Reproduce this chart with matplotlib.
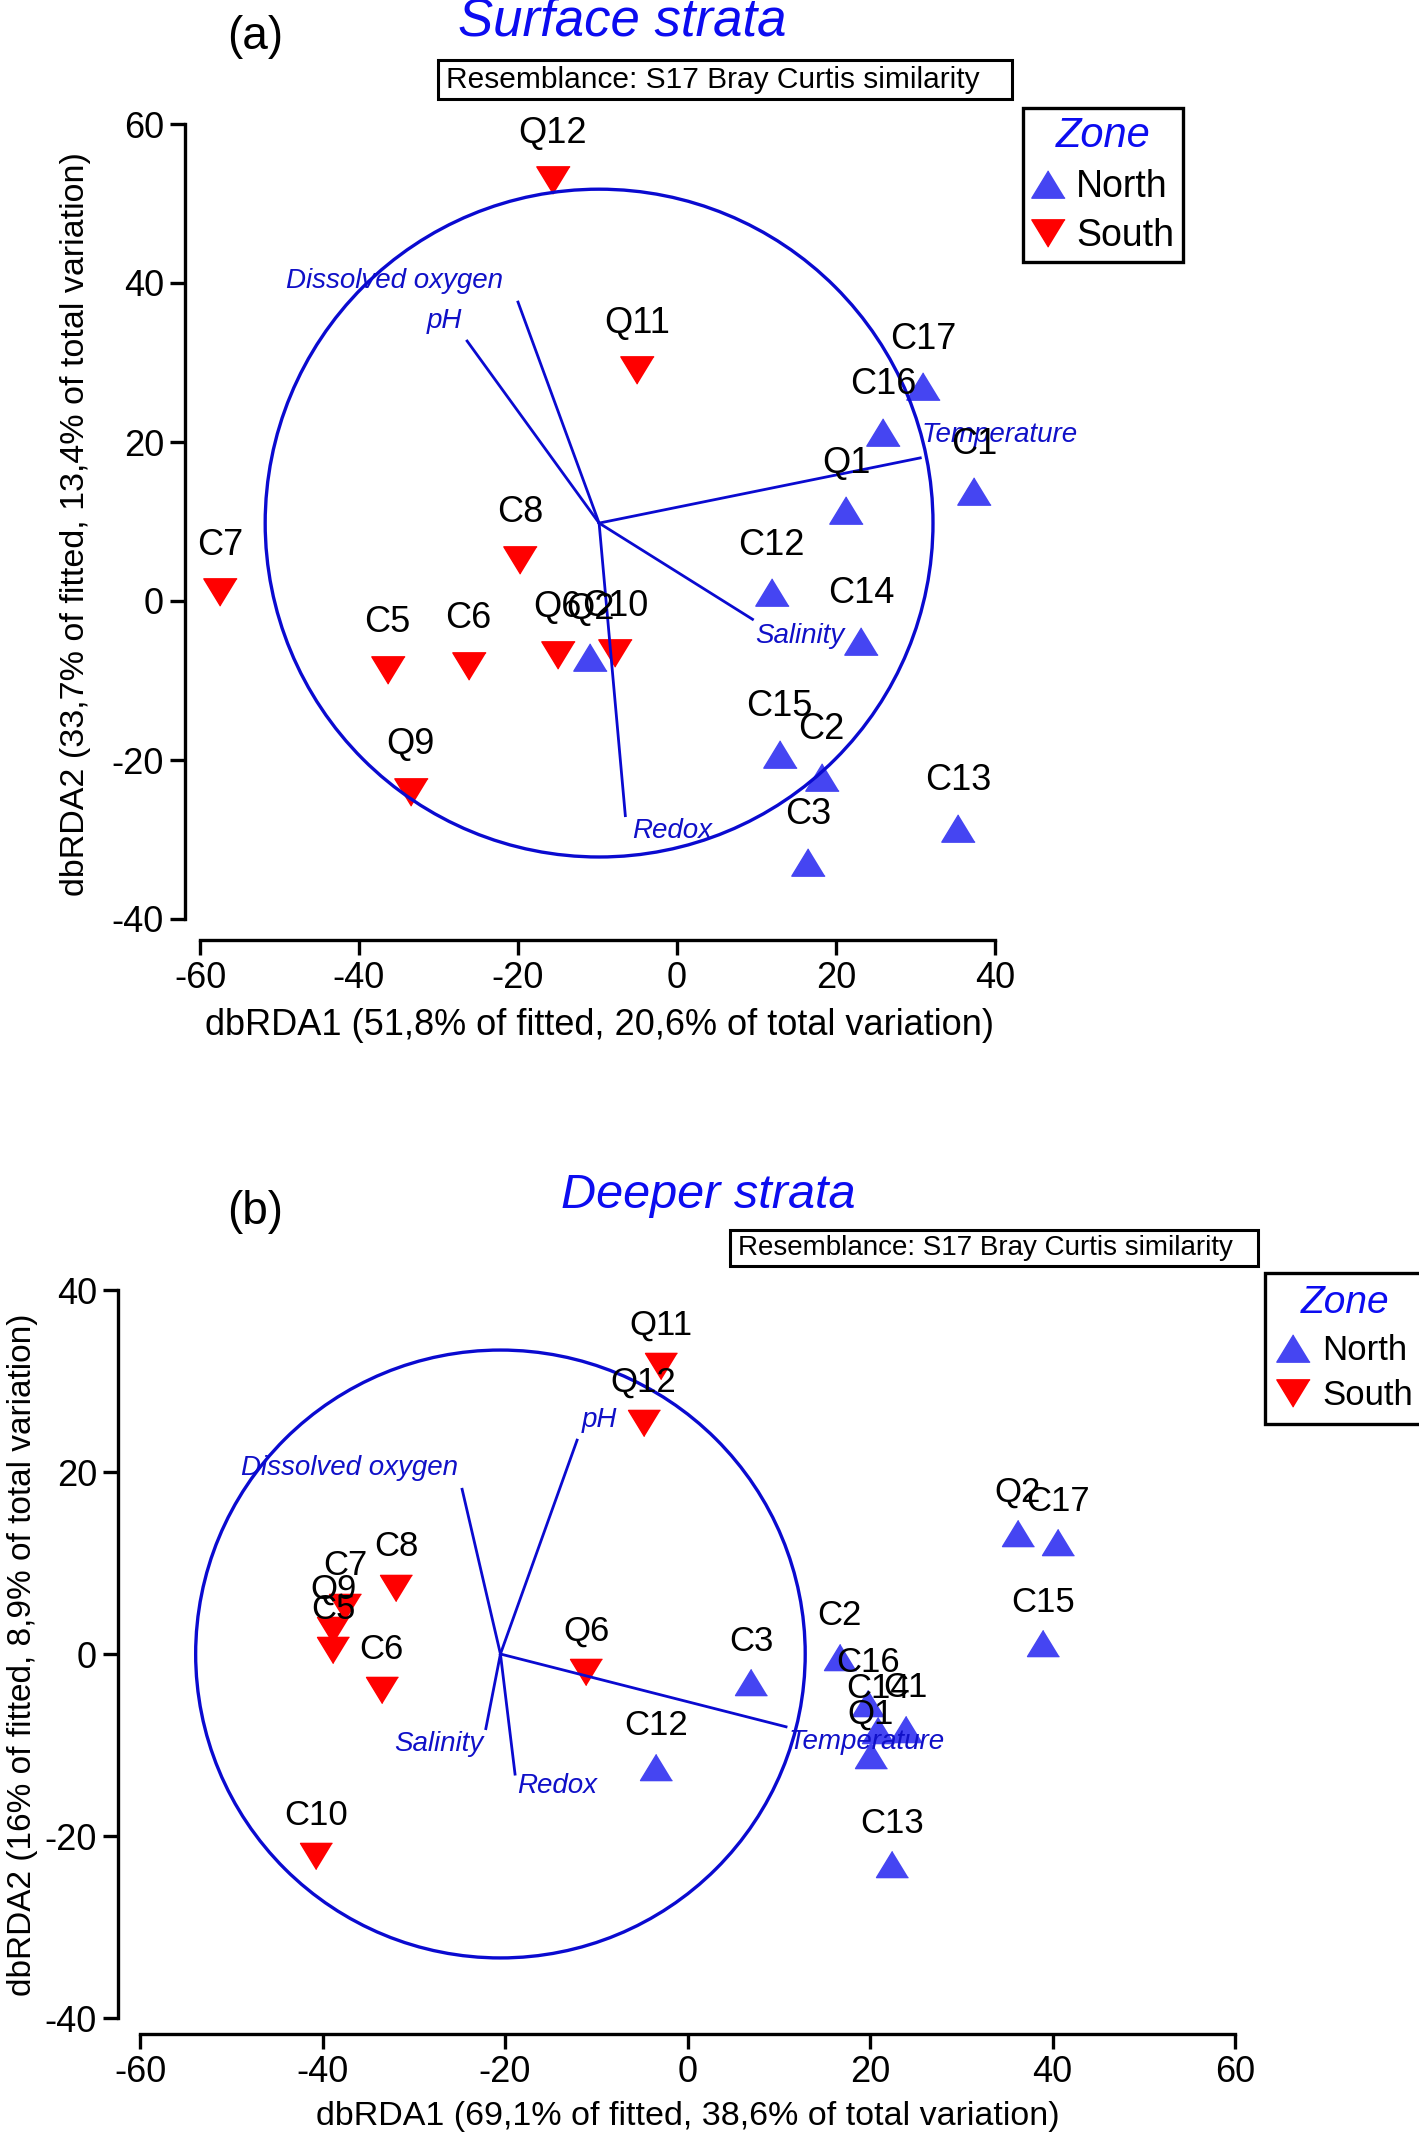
import matplotlib
matplotlib.use("Agg")
import matplotlib.pyplot as plt
from matplotlib.patches import Circle, Rectangle
from matplotlib.lines import Line2D

plt.rcParams['font.family'] = ['Liberation Sans', 'DejaVu Sans']
plt.rcParams['axes.unicode_minus'] = False

# ---- data: panel (a) surface strata ----
sites_a = ["Q12", "Q11", "C17", "C16", "C1", "Q1", "C8", "C7", "C12", "C14",
           "Q6", "C10", "Q2", "C5", "C6", "Q9", "C15", "C2", "C13", "C3"]
x_a = [-15.6, -5.0, 31.0, 25.9, 37.4, 21.3, -19.7, -57.5, 11.9, 23.2,
       -15.0, -7.8, -10.9, -36.4, -26.2, -33.5, 12.9, 18.2, 35.4, 16.5]
y_a = [52.9, 29.0, 27.0, 21.3, 13.8, 11.4, 5.2, 1.1, 1.1, -5.0,
       -6.8, -6.6, -7.0, -8.7, -8.2, -24.0, -19.2, -22.1, -28.5, -32.8]
zone_a = ["South", "South", "North", "North", "North", "North", "South", "South", "North", "North",
          "South", "South", "North", "South", "South", "South", "North", "North", "North", "North"]

vec_names_a = ["Dissolved oxygen", "pH", "Temperature", "Salinity", "Redox"]
vec_x_a = [-20.0, -26.4, 30.6, 9.5, -6.5]
vec_y_a = [37.6, 32.7, 18.0, -2.3, -27.0]
vec_origin_a = (-9.8, 9.8)
circle_r_a = 42.0

# ---- data: panel (b) deeper strata ----
sites_b = ["Q11", "Q12", "Q2", "C17", "C15", "C8", "C7", "Q9", "C5", "C6",
           "Q6", "C3", "C2", "C16", "C14", "C1", "Q1", "C12", "C13", "C10"]
x_b = [-2.9, -4.8, 36.2, 40.6, 39.0, -31.9, -37.5, -38.8, -38.8, -33.5,
       -11.1, 7.0, 16.7, 19.8, 20.9, 23.9, 20.1, -3.4, 22.4, -40.7]
y_b = [31.6, 25.4, 13.3, 12.3, 1.2, 7.3, 5.2, 2.6, 0.4, -4.0,
       -2.0, -3.1, -0.3, -5.4, -8.3, -8.2, -11.1, -12.4, -23.1, -22.2]
zone_b = ["South", "South", "North", "North", "North", "South", "South", "South", "South", "South",
          "South", "North", "North", "North", "North", "North", "North", "North", "North", "South"]

vec_names_b = ["Dissolved oxygen", "pH", "Temperature", "Salinity", "Redox"]
vec_x_b = [-24.7, -12.1, 10.8, -22.1, -18.9]
vec_y_b = [18.1, 23.5, -8.0, -8.2, -13.2]
vec_origin_b = (-20.5, 0.0)
circle_r_b = 33.4

W, H = 1419, 2136
BLUE_PT = "#4545f2"
RED_PT = "#ff0000"
VEC = "#0a0ad0"
VEC_TXT = "#1010c8"
TITLE = "#0c0cf0"

up = [(0, 0.82), (-1, -0.82), (1, -0.82)]
down = [(0, -0.82), (-1, 0.82), (1, 0.82)]


def fx(px):
    return px / W


def fy(py):
    return 1 - py / H


fig = plt.figure(figsize=(W / 100, H / 100), dpi=100)


def panel(rect_px, xlim, ylim, xticks, yticks, sites, xs, ys, zones, vnames, vx, vy,
          origin, radius, vlabels, off_pt, ms, spine_off, fs_pt):
    l, t, r, b = rect_px
    ax = fig.add_axes([fx(l), fy(b), (r - l) / W, (b - t) / H])
    ax.set_xlim(*xlim)
    ax.set_ylim(*ylim)
    for s in ["top", "right"]:
        ax.spines[s].set_visible(False)
    ax.spines["left"].set_position(("outward", spine_off[0]))
    ax.spines["bottom"].set_position(("outward", spine_off[1]))
    for s in ["left", "bottom"]:
        ax.spines[s].set_linewidth(2.4)
    ax.set_xticks(xticks)
    ax.set_yticks(yticks)
    ax.tick_params(length=11, width=2.4, labelsize=26, pad=4)

    # circle and vectors
    ax.add_patch(Circle(origin, radius, fill=False, ec=VEC, lw=2.4, zorder=3, clip_on=False))
    for name, ex, ey, (lx, ly, ha) in zip(vnames, vx, vy, vlabels):
        ax.plot([origin[0], ex], [origin[1], ey], color=VEC, lw=2.0, zorder=3, clip_on=False)
        ax.text(lx, ly, name, color=VEC_TXT, fontsize=20, style="italic",
                ha=ha, va="center", zorder=2.5)

    # sample points
    for name, x, y, z in zip(sites, xs, ys, zones):
        mk = up if z == "North" else down
        col = BLUE_PT if z == "North" else RED_PT
        ax.plot(x, y, marker=mk, ms=ms, color=col, mec=col, ls="none", zorder=2, clip_on=False)
        ax.annotate(name, (x, y), xytext=(0, off_pt), textcoords="offset points",
                    ha="center", va="center", fontsize=fs_pt, zorder=4, annotation_clip=False)
    return ax


# label anchor positions for the vectors (x, y, ha)
vlab_a = [(-35.5, 40.3, "center"), (-27.0, 35.2, "right"), (30.8, 20.9, "left"),
          (15.5, -4.4, "center"), (-0.6, -28.9, "center")]
vlab_b = [(-37.0, 20.4, "center"), (-9.7, 25.7, "center"), (19.6, -9.7, "center"),
          (-27.3, -9.9, "center"), (-14.3, -14.5, "center")]

ax_a = panel((200, 124, 995, 919), (-60, 40), (-40, 60), [-60, -40, -20, 0, 20, 40],
             [-40, -20, 0, 20, 40, 60], sites_a, x_a, y_a, zone_a, vec_names_a,
             vec_x_a, vec_y_a, vec_origin_a, circle_r_a, vlab_a, 34, 24, (11, 15), 26)
ax_a.set_xlabel("dbRDA1 (51,8% of fitted, 20,6% of total variation)", fontsize=26)
ax_a.xaxis.set_label_coords(0.502, -0.134)
ax_a.xaxis.label.set_va("center")
ax_a.set_ylabel("dbRDA2 (33,7% of fitted, 13,4% of total variation)", fontsize=24.5)
ax_a.yaxis.set_label_coords(-0.157, 0.497)
ax_a.yaxis.label.set_va("center")

ax_b = panel((140, 1290, 1235, 2018), (-60, 60), (-40, 40), [-60, -40, -20, 0, 20, 40, 60],
             [-40, -20, 0, 20, 40], sites_b, x_b, y_b, zone_b, vec_names_b,
             vec_x_b, vec_y_b, vec_origin_b, circle_r_b, vlab_b, 29.5, 23, (16, 11.5), 25)
ax_b.set_xlabel("dbRDA1 (69,1% of fitted, 38,6% of total variation)", fontsize=24.5)
ax_b.xaxis.set_label_coords(0.5, -0.135)
ax_b.xaxis.label.set_va("center")
ax_b.set_ylabel("dbRDA2 (16% of fitted, 8,9% of total variation)", fontsize=24)
ax_b.yaxis.set_label_coords(-0.107, 0.499)
ax_b.yaxis.label.set_va("center")

# titles, panel letters, resemblance boxes
fig.text(fx(622), fy(22), "Surface strata", color=TITLE, style="italic", fontsize=38,
         ha="center", va="center")
fig.text(fx(708), fy(1196), "Deeper strata", color=TITLE, style="italic", fontsize=35,
         ha="center", va="center")
fig.text(fx(255), fy(37), "(a)", fontsize=33, ha="center", va="center")
fig.text(fx(255), fy(1212), "(b)", fontsize=33, ha="center", va="center")

for (l, t, r, b, fs) in [(438, 60, 1012, 99, 21.5), (730, 1230, 1258, 1266, 20)]:
    fig.patches.append(Rectangle((fx(l), fy(b)), (r - l) / W, (b - t) / H, fill=False,
                                 ec="black", lw=2.2, transform=fig.transFigure))
    fig.text(fx(l + 8), fy((t + b) / 2), "Resemblance: S17 Bray Curtis similarity",
             fontsize=fs, ha="left", va="center")

# legends
handles = [Line2D([], [], marker=up, ms=24, color=BLUE_PT, ls="none", label="North"),
           Line2D([], [], marker=down, ms=24, color=RED_PT, ls="none", label="South")]
for (l, t, tfs, lfs, sp, bp, tp) in [(1023, 108, 30, 27, 0.34, 0.22, 0.3),
                                      (1265, 1273, 28, 25, 0.36, 0.35, 0.4)]:
    leg = fig.legend(handles=handles, loc="upper left", bbox_to_anchor=(fx(l), fy(t)),
                     bbox_transform=fig.transFigure, title="Zone", fontsize=lfs,
                     title_fontproperties={"size": tfs, "style": "italic"},
                     fancybox=False, edgecolor="black", framealpha=1,
                     borderpad=bp, handlelength=0.9, handletextpad=tp, labelspacing=sp,
                     borderaxespad=0)
    leg.get_title().set_color(TITLE)
    leg.get_frame().set_linewidth(2.4)

fig.savefig("out.png", dpi=100)
